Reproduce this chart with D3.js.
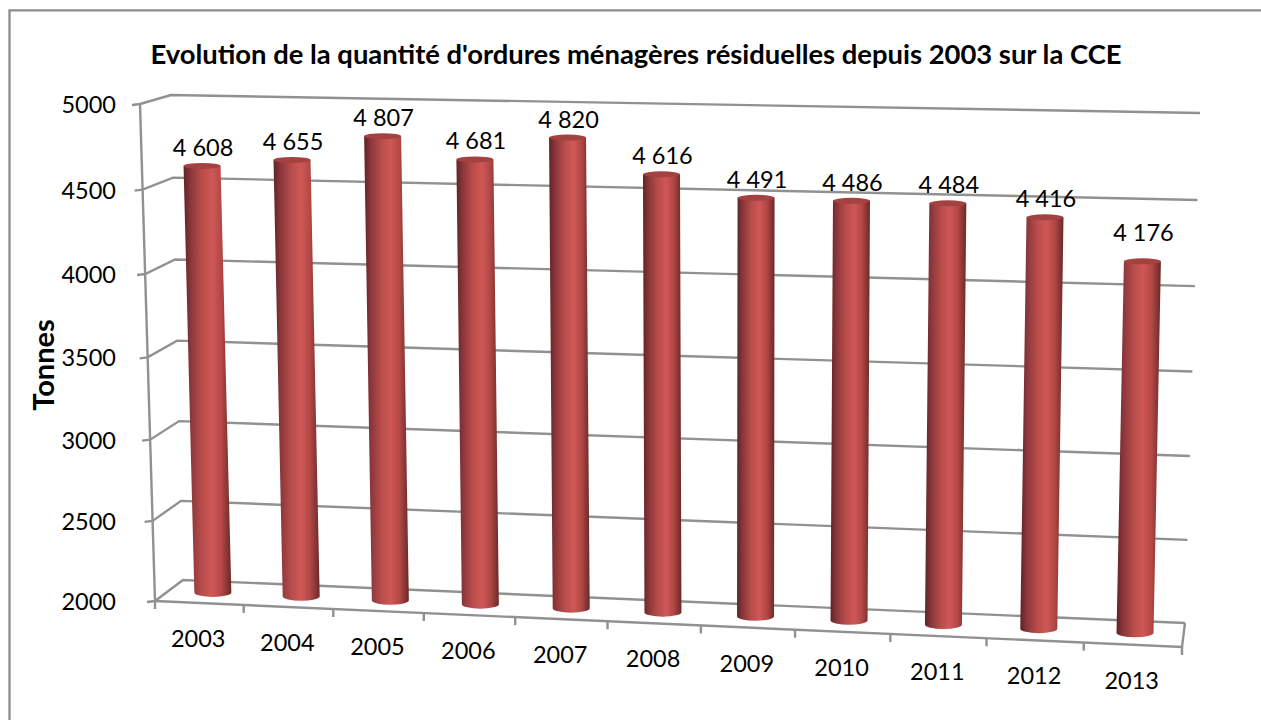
<!DOCTYPE html>
<html>
<head>
<meta charset="utf-8">
<script src="https://cdn.jsdelivr.net/npm/d3@7"></script>
<style>
    html, body { margin: 0; padding: 0; background: #fff; }
    text { font-family: Lato, "Open Sans", sans-serif; fill: #000; }
</style>
</head>
<body>
<div id="chart"></div>
<script>
var years = ["2003", "2004", "2005", "2006", "2007", "2008", "2009", "2010", "2011", "2012", "2013"];
var tonnes = [4608, 4655, 4807, 4681, 4820, 4616, 4491, 4486, 4484, 4416, 4176];
var valueLabels = ["4 608", "4 655", "4 807", "4 681", "4 820", "4 616", "4 491", "4 486", "4 484", "4 416", "4 176"];
var yTicks = [2000, 2500, 3000, 3500, 4000, 4500, 5000];
var title = "Evolution de la quantité d'ordures ménagères résiduelles depuis 2003 sur la CCE";
var yTitle = "Tonnes";

var chart_width = 1261;
var chart_height = 720;

var svg = d3.select("#chart")
        .append("svg")
        .attr("width", chart_width)
        .attr("height", chart_height);

// frame of the chart area
svg.append("path")
        .attr("d", "M9.5,720V10.3H1261")
        .attr("fill", "none")
        .attr("stroke", "#8c8c8c")
        .attr("stroke-width", 2.3);

// Scales: u runs along the categories, v runs up the value axis, both 0..1
var band = d3.scaleBand().domain(years).range([0, 1]);
var v = d3.scaleLinear().domain([2000, 5000]).range([0, 1]);

// perspective map of the unit square on a quad (bottom left, bottom right, top right, top left)
function quadMap(bl, br, tr, tl) {
    var dx1 = br[0] - tr[0], dx2 = tl[0] - tr[0], sx = bl[0] - br[0] + tr[0] - tl[0];
    var dy1 = br[1] - tr[1], dy2 = tl[1] - tr[1], sy = bl[1] - br[1] + tr[1] - tl[1];
    var den = dx1 * dy2 - dx2 * dy1;
    var g = (sx * dy2 - dx2 * sy) / den;
    var h = (dx1 * sy - sx * dy1) / den;
    var a = br[0] - bl[0] + g * br[0], b = tl[0] - bl[0] + h * tl[0];
    var d = br[1] - bl[1] + g * br[1], e = tl[1] - bl[1] + h * tl[1];
    return function (u, w) {
        var z = g * u + h * w + 1;
        return [(a * u + b * w + bl[0]) / z, (d * u + e * w + bl[1]) / z];
    };
}

var backWall = quadMap([183, 580], [1185, 623], [1200, 113], [171, 95]);
var barPlane = quadMap([169, 590.5], [1183.5, 635], [1195, 118], [155.5, 99.5]);
var frontPlane = quadMap([155, 601], [1182, 647], [1210, 122], [140, 104]);

var line = d3.line();
var gridColor = "#919191";

// gridlines on the back wall and side wall, with ticks on the front edge
var grid = svg.append("g").attr("fill", "none").attr("stroke", gridColor).attr("stroke-width", 2.4);
yTicks.forEach(function (t) {
    var back0 = backWall(0, v(t)), back1 = backWall(1, v(t)), front = frontPlane(0, v(t));
    grid.append("path").attr("d", line([[front[0] - 8, front[1] + 1], front, back0, back1]));
});
grid.append("path").attr("d", line([frontPlane(0, 1), frontPlane(0, 0)]));

// floor
grid.append("path").attr("d", line([frontPlane(0, 0), frontPlane(1, 0), backWall(1, 0)]));
d3.range(0, years.length + 1).forEach(function (i) {
    var p = frontPlane(i / years.length, 0);
    grid.append("path").attr("d", line([p, [p[0], p[1] + 8]]));
});

// cylinders
var defs = svg.append("defs");
var body = defs.append("linearGradient").attr("id", "barBody");
[[0, "#5f2423"], [0.14, "#88353a"], [0.38, "#b84c4a"], [0.6, "#cf5855"], [0.8, "#b04745"], [1, "#6a2828"]].forEach(function (s) {
    body.append("stop").attr("offset", s[0]).attr("stop-color", s[1]);
});

var rx = 18.5, ry = 3;
var bars = svg.append("g").selectAll("g.bar")
        .data(tonnes)
        .enter()
        .append("g")
        .attr("class", "bar");

function barCenter(i) {
    return (band(years[i]) + band.bandwidth() / 2);
}

bars.append("path")
        .attr("fill", "url(#barBody)")
        .attr("d", function (d, i) {
            var bottom = barPlane(barCenter(i), 0), top = barPlane(barCenter(i), v(d));
            return "M" + (top[0] - rx) + "," + top[1]
                    + "L" + (bottom[0] - rx) + "," + bottom[1]
                    + "A" + rx + ",4.5 0 0 0 " + (bottom[0] + rx) + "," + bottom[1]
                    + "L" + (top[0] + rx) + "," + top[1] + "Z";
        });
bars.append("ellipse")
        .attr("fill", "#a34240")
        .attr("cx", function (d, i) { return barPlane(barCenter(i), v(d))[0]; })
        .attr("cy", function (d, i) { return barPlane(barCenter(i), v(d))[1]; })
        .attr("rx", rx)
        .attr("ry", ry);

// value labels, the one on the shortest bar sits higher
bars.append("text")
        .attr("x", function (d, i) { return barPlane(barCenter(i), v(d))[0] + 1; })
        .attr("y", function (d, i) {
            return barPlane(barCenter(i), v(d))[1] - (d === d3.min(tonnes) ? 29 : 19);
        })
        .attr("text-anchor", "middle")
        .attr("dominant-baseline", "central")
        .style("font-size", "23.5px")
        .text(function (d, i) { return valueLabels[i]; });

// category labels
svg.append("g").selectAll("text")
        .data(years)
        .enter()
        .append("text")
        .attr("x", function (d) { return frontPlane(band(d) + band.bandwidth() / 2, 0)[0] - 1; })
        .attr("y", function (d) { return frontPlane(band(d) + band.bandwidth() / 2, 0)[1] + 35; })
        .attr("text-anchor", "middle")
        .attr("dominant-baseline", "central")
        .style("font-size", "23.5px")
        .text(function (d) { return d; });

// value axis labels
svg.append("g").selectAll("text")
        .data(yTicks)
        .enter()
        .append("text")
        .attr("x", 116)
        .attr("y", function (d) { return frontPlane(0, v(d))[1]; })
        .attr("text-anchor", "end")
        .attr("dominant-baseline", "central")
        .style("font-size", "23.5px")
        .text(function (d) { return d; });

// titles
svg.append("text")
        .attr("x", 636)
        .attr("y", 53)
        .attr("text-anchor", "middle")
        .attr("dominant-baseline", "central")
        .style("font-size", "27.4px")
        .style("font-weight", "bold")
        .text(title);
svg.append("text")
        .attr("transform", "translate(42,365) rotate(-90)")
        .attr("text-anchor", "middle")
        .attr("dominant-baseline", "central")
        .style("font-size", "29px")
        .style("font-weight", "bold")
        .text(yTitle);
</script>
</body>
</html>
